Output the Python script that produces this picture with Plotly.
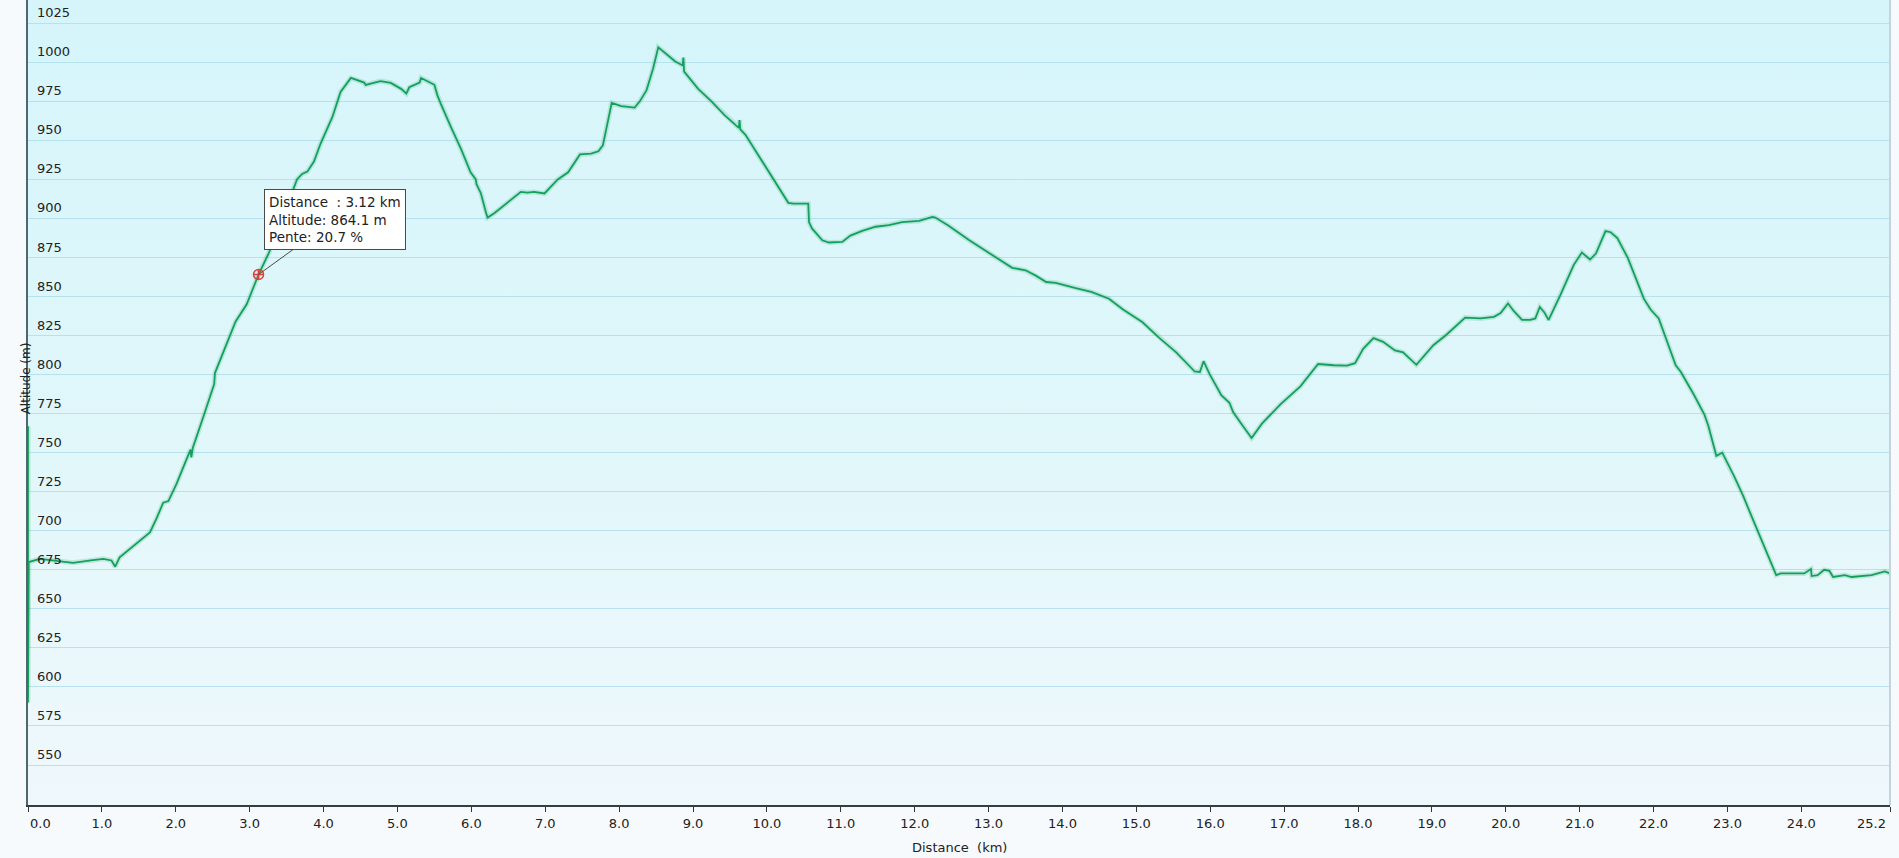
import base64

import plotly.graph_objects as go

# ── Elevation profile ──────────────────────────────────────
distance_km = [
    0.00, 0.00, 0.01, 0.16, 0.34, 0.61, 0.85, 1.02, 1.13, 1.18, 1.24, 1.45,
    1.65, 1.74, 1.83, 1.90, 2.01, 2.13, 2.20, 2.21, 2.23, 2.38, 2.52, 2.53,
    2.69, 2.81, 2.96, 3.12, 3.26, 3.46, 3.64, 3.71, 3.78, 3.87, 3.96, 4.12,
    4.23, 4.34, 4.37, 4.55, 4.57, 4.77, 4.91, 5.05, 5.12, 5.16, 5.30, 5.32,
    5.50, 5.54, 5.59, 5.72, 5.86, 5.99, 6.06, 6.07, 6.13, 6.20, 6.22, 6.31,
    6.49, 6.67, 6.76, 6.85, 6.99, 7.08, 7.17, 7.31, 7.47, 7.62, 7.72, 7.78,
    7.85, 7.90, 8.03, 8.21, 8.28, 8.37, 8.46, 8.53, 8.76, 8.86, 8.87, 8.88,
    9.07, 9.25, 9.43, 9.62, 9.63, 9.64, 9.71, 9.89, 10.11, 10.29, 10.36, 10.56,
    10.57, 10.61, 10.75, 10.84, 11.02, 11.13, 11.29, 11.47, 11.65, 11.83, 12.06, 12.24,
    12.28, 12.46, 12.74, 13.01, 13.32, 13.50, 13.64, 13.78, 13.91, 14.18, 14.39, 14.63,
    14.82, 15.08, 15.31, 15.54, 15.79, 15.86, 15.91, 15.99, 16.15, 16.26, 16.31, 16.42,
    16.56, 16.70, 16.95, 17.22, 17.46, 17.67, 17.85, 17.96, 18.07, 18.21, 18.34, 18.50,
    18.61, 18.79, 19.02, 19.20, 19.45, 19.66, 19.84, 19.93, 20.03, 20.11, 20.22, 20.33,
    20.40, 20.46, 20.52, 20.58, 20.74, 20.92, 21.03, 21.14, 21.22, 21.35, 21.42, 21.51,
    21.65, 21.87, 21.96, 22.07, 22.30, 22.37, 22.55, 22.69, 22.74, 22.85, 22.93, 23.09,
    23.21, 23.32, 23.46, 23.59, 23.66, 23.72, 23.91, 24.04, 24.13, 24.14, 24.22, 24.31,
    24.38, 24.43, 24.59, 24.68, 24.95, 25.13, 25.20,
]
altitude_m = [
    767.0, 590.0, 680.0, 682.0, 681.0, 679.5, 681.0, 682.0, 681.0, 677.0, 683.0, 691.0,
    699.0, 708.0, 718.0, 719.0, 730.0, 744.0, 752.0, 747.0, 753.0, 774.0, 794.0, 801.0,
    820.0, 834.0, 845.0, 864.1, 878.0, 902.0, 925.0, 928.5, 930.0, 936.5, 948.0, 965.0,
    981.0, 988.0, 990.0, 987.0, 985.5, 988.0, 986.8, 983.0, 980.0, 984.0, 987.0, 990.0,
    985.6, 979.0, 973.0, 959.0, 944.5, 929.6, 925.0, 922.0, 916.0, 903.4, 900.6, 903.4,
    910.0, 917.0, 916.6, 917.0, 916.0, 920.5, 925.0, 929.6, 941.0, 941.5, 943.0, 946.8,
    964.0, 974.0, 972.0, 971.0, 975.0, 982.0, 996.0, 1009.6, 1000.5, 998.0, 1003.0, 994.0,
    983.0, 975.0, 966.0, 958.0, 963.0, 957.0, 953.6, 940.0, 922.8, 910.0, 909.5, 909.5,
    897.7, 893.6, 886.0, 884.6, 885.0, 889.0, 892.0, 894.7, 895.8, 897.7, 898.4, 901.0,
    900.6, 895.4, 886.0, 878.0, 868.4, 866.8, 863.4, 859.3, 858.8, 855.4, 853.0, 848.6,
    841.7, 833.7, 823.5, 814.3, 802.0, 801.7, 808.6, 800.5, 786.8, 782.0, 776.0, 768.6,
    759.4, 768.6, 781.0, 792.5, 806.8, 806.0, 805.7, 807.3, 816.5, 823.4, 821.0, 815.5,
    814.3, 806.3, 818.8, 825.7, 836.5, 836.0, 837.0, 839.4, 845.6, 840.6, 835.0, 835.0,
    836.0, 843.3, 840.0, 835.0, 851.0, 870.3, 878.2, 873.7, 877.5, 891.9, 891.2, 887.4,
    874.9, 848.5, 841.7, 836.0, 806.0, 801.7, 786.8, 774.2, 767.4, 748.0, 750.0, 735.0,
    722.7, 710.0, 694.0, 679.6, 671.6, 672.7, 672.7, 672.7, 675.5, 671.0, 671.6, 675.0,
    674.3, 670.4, 671.6, 670.4, 671.6, 674.0, 672.7,
]

y_ticks = list(range(550, 1026, 25))
x_ticks = [float(i) for i in range(25)] + [25.2]
x_labels = [f"{v:.1f}" for v in x_ticks]

hover_km = 3.12
hover_alt = 864.1
hover_slope = 20.7

FONT = "DejaVu Sans, Verdana, sans-serif"
LINE_GREEN = "#14a05c"

# first / last distance labels are drawn as annotations so they stay
# inside the figure (left-aligned at 0, right-aligned at the end)
x_text = [""] + x_labels[1:-1] + [""]

# ── Plot-area gradient (cyan at top fading to near white) ──
svg = (
    '<svg xmlns="http://www.w3.org/2000/svg" width="10" height="100" '
    'viewBox="0 0 10 100" preserveAspectRatio="none">'
    '<defs><linearGradient id="g" x1="0" y1="0" x2="0" y2="1">'
    '<stop offset="0" stop-color="#d5f5fb"/>'
    '<stop offset="0.55" stop-color="#e1f7fa"/>'
    '<stop offset="1" stop-color="#eff8fc"/>'
    '</linearGradient></defs>'
    '<rect width="10" height="100" fill="url(#g)"/></svg>'
)
bg_uri = "data:image/svg+xml;base64," + base64.b64encode(svg.encode()).decode()

fig = go.Figure()

# soft halo under the profile
fig.add_trace(go.Scatter(
    x=distance_km, y=altitude_m, mode="lines",
    line=dict(color="rgba(20,160,92,0.18)", width=5),
    hoverinfo="skip", showlegend=False,
))
fig.add_trace(go.Scatter(
    x=distance_km, y=altitude_m, mode="lines",
    line=dict(color=LINE_GREEN, width=1.8),
    showlegend=False,
))
# hovered point
fig.add_trace(go.Scatter(
    x=[hover_km], y=[hover_alt], mode="markers",
    marker=dict(symbol="circle-cross-open", size=10, color="#e0403a",
                line=dict(width=1.5, color="#e0403a")),
    showlegend=False,
))

tick_font = dict(family=FONT, size=13, color="#222")

# y tick labels sit just above their gridline, inside the plot
y_labels = [
    dict(text=str(v), xref="paper", yref="y", x=0, y=v,
         xanchor="left", yanchor="bottom", xshift=7, yshift=1,
         showarrow=False, font=tick_font)
    for v in y_ticks
]
x_end_labels = [
    dict(text=x_labels[0], xref="x", yref="paper", x=x_ticks[0], y=0,
         xanchor="left", yanchor="middle", xshift=0, yshift=-18,
         showarrow=False, font=tick_font),
    dict(text=x_labels[-1], xref="x", yref="paper", x=x_ticks[-1], y=0,
         xanchor="right", yanchor="middle", xshift=-2, yshift=-18,
         showarrow=False, font=tick_font),
]

fig.update_layout(
    width=1899, height=858,
    margin=dict(l=28, r=9, t=0, b=53, autoexpand=False),
    paper_bgcolor="#f7fafc",
    plot_bgcolor="rgba(0,0,0,0)",
    font=dict(family=FONT, size=13, color="#222"),
    images=[dict(
        source=bg_uri, xref="paper", yref="paper", x=0, y=1,
        sizex=1, sizey=1, sizing="stretch", xanchor="left", yanchor="top",
        layer="below",
    )],
    shapes=[dict(
        type="line", xref="paper", yref="paper", x0=1, x1=1, y0=0, y1=1,
        line=dict(color="#c5d3df", width=2),
    )],
    annotations=y_labels + x_end_labels + [
        dict(text="Distance \u00a0(km)", xref="paper", yref="paper",
             x=0.5, y=0, yshift=-52, showarrow=False,
             font=dict(family=FONT, size=13, color="#222")),
        dict(text="Altitude (m)", xref="paper", yref="paper",
             x=0, xshift=-11, y=0.53, textangle=-90, showarrow=False,
             font=dict(family=FONT, size=12, color="#222")),
        dict(
            text=(f"Distance \u00a0: {hover_km:.2f} km<br>"
                  f"Altitude: {hover_alt:.1f} m<br>"
                  f"Pente: {hover_slope:.1f} %"),
            x=hover_km, y=hover_alt, xref="x", yref="y",
            ax=76, ay=-55, align="left",
            showarrow=True, arrowhead=0, arrowwidth=1, arrowcolor="#4a4a4a",
            bgcolor="white", bordercolor="#4a4a4a", borderwidth=1, borderpad=4,
            font=dict(family=FONT, size=13.5, color="#222"),
        ),
    ],
)

fig.update_xaxes(
    range=[0, 25.2], automargin=False,
    tickvals=x_ticks, ticktext=x_text,
    ticks="outside", ticklen=5, tickcolor="#333", tickwidth=1,
    showline=True, linecolor="#2f3f45", linewidth=2,
    showgrid=False, zeroline=False,
    tickfont=tick_font,
)
fig.update_yaxes(
    range=[524.4, 1039.9], automargin=False,
    tickvals=y_ticks, showticklabels=False, ticks="",
    showgrid=True, gridcolor="#b6e1ef", gridwidth=1.4,
    showline=True, linecolor="#4f6870", linewidth=2,
    zeroline=False,
)

# the page's default body margin would shift the figure; remove it
fig.write_html(
    "out.html",
    config={"displayModeBar": False},
    post_script="document.body.style.margin='0';document.body.style.overflow='hidden';",
)
